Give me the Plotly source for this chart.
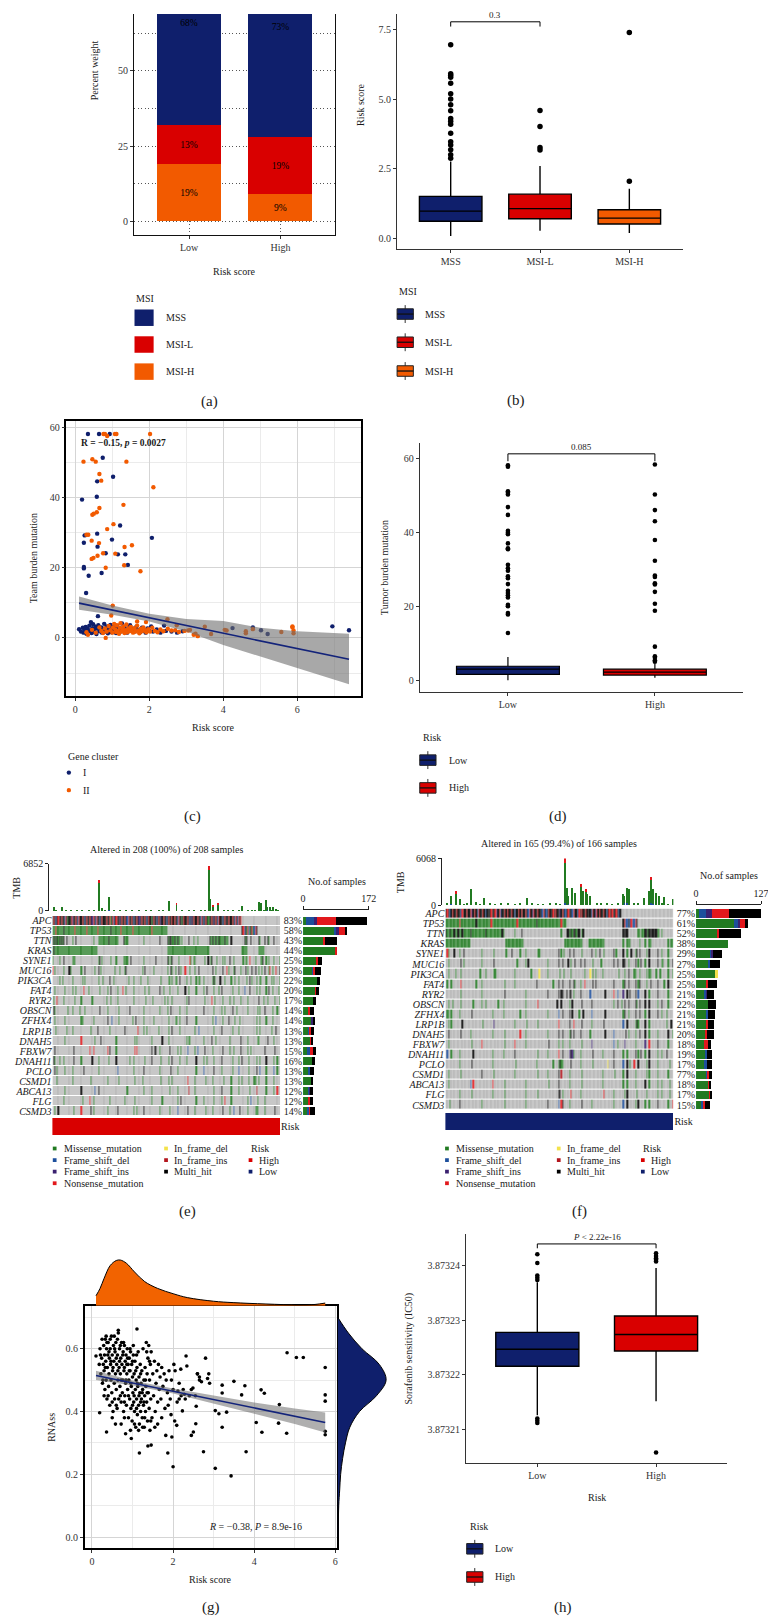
import plotly.graph_objects as go

W, H = 776, 1622
# the page adds an 8px body margin, so the figure is drawn 8px smaller and all
# reference pixel positions are shifted by that amount
OFF = 8
FIG_W, FIG_H = W - OFF, H - OFF
SERIF = "Liberation Serif"
INK = "#1a1a1a"
TICK = "#333333"
NAVY = "#0f1f6c"
RED = "#d90000"
ORANGE = "#f25a00"

# ---------------- (a) MSI share per risk group (%) ----------------
risk_groups = ["Low", "High"]
pct_msih = [19, 9]
pct_msil = [13, 19]
pct_mss = [68, 73]

# ---------------- (b) risk score by MSI status ----------------
msi_groups = ["MSS", "MSI-L", "MSI-H"]
b_q1 = [0.62, 0.71, 0.52]
b_median = [0.98, 1.07, 0.73]
b_q3 = [1.51, 1.59, 1.03]
b_low = [0.09, 0.28, 0.20]
b_high = [2.76, 2.60, 1.78]
b_out_mss = [6.95, 5.91, 5.85, 5.78, 5.57, 5.19, 5.0, 4.8, 4.58, 4.3, 4.2, 4.1, 3.77, 3.47, 3.35, 3.18, 3.0, 2.88]
b_out_msil = [4.59, 4.02, 3.26, 3.17]
b_out_msih = [7.39, 2.05]
b_pval = "0.3"
b_brk_y, b_brk_tip = 7.77, 7.6

# ---------------- (c) TMB vs risk score ----------------
c_cluster1 = [
    (0.34, 58.1), (0.64, 58.1), (0.93, 58.1), (0.74, 51.3), (1.02, 45.9), (0.59, 44.6), (0.18, 39.4),
    (0.58, 40.2), (1.21, 32.0), (0.25, 29.2), (0.59, 29.7), (0.99, 28.0), (2.07, 28.5), (0.23, 27.1),
    (0.6, 26.0), (0.82, 24.1), (1.15, 23.8), (1.35, 23.8), (1.42, 20.8), (0.23, 20.2), (0.23, 19.8),
    (0.71, 18.5), (0.36, 17.7), (0.29, 12.8), (0.61, 6.2), (6.95, 3.3), (7.4, 2.2), (5.2, 1.1),
    (5.02, 2.2), (4.8, 3.0), (4.25, 2.8),
    (0.1, 2.5), (0.15, 1.8), (0.2, 2.9), (0.22, 1.5), (0.25, 2.2), (0.28, 3.1), (0.3, 1.2), (0.33, 2.6),
    (0.35, 1.9), (0.38, 3.5), (0.4, 2.1), (0.42, 4.5), (0.44, 1.4), (0.46, 2.8), (0.48, 3.9), (0.5, 1.7),
    (0.52, 2.4), (0.55, 3.2), (0.57, 1.1), (0.6, 2.7), (0.62, 3.6), (0.65, 1.9), (0.67, 2.3), (0.7, 3.0),
    (0.72, 1.5), (0.75, 2.6), (0.78, 4.0), (0.8, 1.8), (0.83, 2.2), (0.85, 3.3), (0.88, 1.3), (0.9, 2.9),
    (0.93, 2.0), (0.95, 3.7), (0.98, 1.6), (1.0, 2.5), (1.03, 3.1), (1.05, 1.9), (1.08, 2.7), (1.1, 1.4),
    (1.13, 3.4), (1.15, 2.1), (1.18, 2.8), (1.2, 1.7), (1.23, 2.4), (1.26, 4.1), (1.3, 1.9), (1.33, 3.0),
    (1.36, 2.3), (1.4, 1.5), (1.44, 2.8), (1.48, 3.6), (1.52, 2.0), (1.56, 2.6), (1.6, 1.8), (1.65, 3.2),
    (1.7, 2.2), (1.75, 1.6), (1.8, 2.9), (1.85, 2.1), (1.9, 1.5), (1.95, 2.7), (2.0, 2.0), (2.05, 3.3),
    (2.1, 1.8), (2.2, 2.4), (2.3, 1.5), (2.4, 3.5), (2.45, 2.0), (2.6, 1.8), (2.75, 1.5), (2.9, 1.9),
]
c_cluster2 = [
    (0.76, 58.1), (0.8, 58.1), (0.86, 57.5), (1.07, 58.1), (1.11, 58.1), (2.02, 58.1), (0.22, 50.2),
    (0.46, 50.9), (0.55, 50.2), (1.38, 50.2), (0.65, 46.7), (0.7, 44.8), (2.11, 42.9), (1.3, 37.9),
    (0.65, 37.0), (0.58, 35.8), (0.5, 35.4), (0.46, 35.1), (1.03, 32.4), (0.86, 31.0), (0.3, 29.4),
    (0.35, 29.4), (0.44, 27.7), (0.64, 27.0), (1.33, 25.9), (1.53, 26.4), (0.75, 24.1), (1.08, 24.0),
    (0.6, 23.4), (0.49, 22.8), (0.44, 22.5), (0.82, 20.0), (1.32, 20.7), (1.76, 19.0), (1.01, 9.2),
    (0.97, 6.4), (2.49, 5.3), (1.67, 4.7), (1.91, 4.5), (5.87, 3.3), (5.87, 3.0), (5.9, 2.1), (5.9, 1.3),
    (5.57, 1.7), (4.61, 1.3), (4.61, 1.9), (4.8, 2.5), (4.04, 2.3), (4.09, 2.1), (3.67, 1.1), (3.5, 3.2),
    (3.31, 0.5), (3.2, 0.9), (3.05, 2.1), (2.74, 3.6), (0.82, 0.0), (0.34, 0.9),
    (0.3, 1.6), (0.45, 2.3), (0.55, 1.5), (0.65, 3.0), (0.7, 2.0), (0.75, 1.4), (0.8, 2.7), (0.85, 1.8),
    (0.9, 3.4), (0.95, 2.2), (1.0, 1.5), (1.02, 3.0), (1.05, 4.0), (1.08, 2.4), (1.1, 1.7), (1.12, 3.6),
    (1.15, 2.0), (1.18, 1.2), (1.2, 2.9), (1.22, 4.2), (1.25, 1.8), (1.28, 2.5), (1.3, 3.3), (1.33, 1.4),
    (1.35, 2.2), (1.38, 3.8), (1.4, 1.6), (1.43, 2.7), (1.46, 1.9), (1.5, 3.1), (1.53, 2.3), (1.56, 1.5),
    (1.6, 2.8), (1.63, 1.8), (1.67, 3.5), (1.7, 2.1), (1.73, 1.3), (1.77, 2.6), (1.8, 1.9), (1.84, 3.0),
    (1.88, 2.2), (1.92, 1.6), (1.97, 2.5), (2.02, 1.8), (2.08, 2.9), (2.15, 2.0), (2.22, 1.6), (2.3, 2.4),
    (2.38, 1.9), (2.5, 2.6), (2.6, 2.1), (2.7, 2.2), (2.8, 1.7), (2.95, 2.0), (3.1, 2.3), (3.25, 1.2),
]
c_fit_x = [0.1, 7.4]
c_fit_y = [9.9, -6.1]
c_band_x = [0.1, 1.0, 2.0, 3.0, 4.0, 5.0, 6.0, 7.4]
c_band_lo = [8.0, 6.6, 4.7, 1.8, -2.0, -5.2, -8.5, -13.2]
c_band_hi = [11.8, 9.2, 6.9, 5.4, 4.8, 2.9, 1.9, 1.2]

# ---------------- (d) TMB by risk group ----------------
d_q1 = [1.6, 1.4]
d_median = [3.0, 2.2]
d_q3 = [3.8, 3.0]
d_low = [0.0, 0.7]
d_high = [6.3, 4.5]
d_out_low = [58.1, 57.7, 51.1, 50.7, 50.2, 46.8, 44.7, 40.4, 39.9, 39.5, 37.0, 35.7, 35.4, 31.2, 30.3,
             29.6, 28.1, 27.6, 26.0, 24.2, 23.6, 23.0, 22.4, 20.4, 20.0, 18.2, 17.8, 12.8]
d_out_high = [58.3, 50.2, 46.0, 43.0, 37.9, 32.3, 28.3, 27.9, 26.2, 25.9, 23.9, 20.7, 18.8, 9.1, 6.5,
              6.1, 5.4, 5.0]
d_pval = "0.085"
d_brk_y, d_brk_tip = 61.2, 59.2

# ---------------- (e)/(f) oncoplots ----------------
genes = ["APC", "TP53", "TTN", "KRAS", "SYNE1", "MUC16", "PIK3CA", "FAT4", "RYR2", "OBSCN",
         "ZFHX4", "LRP1B", "DNAH5", "FBXW7", "DNAH11", "PCLO", "CSMD1", "ABCA13", "FLG", "CSMD3"]
pct_high = ["83%", "58%", "43%", "44%", "25%", "23%", "22%", "20%", "17%", "14%",
            "14%", "13%", "13%", "15%", "16%", "13%", "13%", "12%", "12%", "14%"]
pct_low = ["77%", "61%", "52%", "38%", "29%", "27%", "25%", "25%", "21%", "22%",
           "21%", "21%", "20%", "18%", "19%", "17%", "77%", "18%", "17%", "15%"]
n_high, n_low = 208, 166
tmb_max_high, tmb_max_low = 6852, 6068
bar_max_high, bar_max_low = 172, 127

# samples per gene and variant class (side bars)
bar_high_mis = [7, 83, 51, 86, 36, 25, 36, 32, 27, 15, 21, 14, 19, 13, 23, 15, 21, 15, 15, 12]
bar_high_fsd = [21, 4, 0, 0, 0, 3, 0, 0, 0, 0, 2, 3, 0, 4, 0, 4, 0, 2, 0, 4]
bar_high_fsi = [9, 6, 0, 0, 0, 0, 0, 0, 0, 0, 2, 0, 0, 0, 0, 0, 0, 2, 0, 0]
bar_high_non = [49, 17, 7, 3, 4, 3, 0, 3, 0, 3, 0, 3, 3, 8, 0, 0, 0, 0, 3, 3]
bar_high_ifd = [0, 0, 0, 0, 0, 0, 0, 0, 0, 0, 0, 0, 0, 0, 0, 0, 0, 0, 0, 0]
bar_high_multi = [82, 5, 30, 0, 10, 16, 9, 6, 6, 10, 6, 9, 4, 8, 9, 9, 5, 6, 8, 11]
bar_low_mis = [5, 74, 42, 63, 29, 24, 37, 21, 17, 24, 19, 21, 19, 16, 19, 16, 21, 24, 26, 11]
bar_low_fsd = [15, 8, 0, 0, 2, 3, 0, 0, 3, 0, 5, 0, 0, 0, 3, 5, 2, 0, 0, 3]
bar_low_fsi = [11, 3, 0, 0, 2, 0, 0, 0, 2, 0, 0, 0, 0, 0, 0, 0, 0, 0, 0, 0]
bar_low_non = [33, 11, 3, 0, 0, 0, 0, 3, 0, 0, 0, 3, 3, 8, 0, 0, 2, 3, 2, 3]
bar_low_ifd = [0, 0, 0, 0, 0, 0, 5, 0, 0, 0, 0, 0, 0, 0, 0, 0, 0, 0, 0, 0]
bar_low_multi = [63, 5, 42, 0, 17, 19, 0, 17, 13, 14, 13, 11, 13, 5, 10, 10, 6, 3, 3, 10]

# one char per sample: . none, m missense, d frame_shift_del, i frame_shift_ins,
# n nonsense, D in_frame_del, I in_frame_ins, x multi_hit
onco_high = [
    "xnxdxnxx nxxdnxmx xnixxnxd nxxnxdxn xxnxinxd nxxdxnxx xnxxnmxn dxnxxixn xxnxdnxx nxdxxnxi xnxxnxdx nxmxnxxd xnxixnxx dxnxxnxn xxdnxxmx nxxnxdxi xnxxnxxd nxdxnxmx xnxixnxd nxxdxnxx xnxxnxdn xdnxn... ........ ........ ........ ........",
    "mmmnmmmm mmxmmmmm mmmmnmmm mmmmmmmn mmmmmmmm mnmmmmmm mmmmmxmm mmmmmmnm mmmmmmmm mnmmmmmm mmmmmmmm mmnmmmmm mmmmmmmm m....... ........ ........ ........ ........ ........ ........ ........ .....xnd xmndmxnm dnx..... ........ ........",
    "xmxmxmxm xmx..x.. ..m..x.. ........ .....m.. ..mmmmmm mmmxmmmm mmmm.... .xmmm... ........ ...m.... ........ ..x..... .xmxxmmx mmxmm.m. ....x... .m..m... .......x mmxmmxmm xmmmmxmm m..x.... .......x mx...x.. ....xm.. ..x.xm.. ..x.....",
    "mxmmmmmm mmmmmmmm mmmmmmmm mmmmmmmm mmmmmmmm m....... ........ ........ ........ ........ ........ ........ ........ .mmmmmmm mmmmmmmm mmmmmmmm mmmmmmmm mmmmmmm. ........ ........ ........ .....mmm mm...... ....mmmm mm...... ........",
    "m.....m. ..x..... ..mmm... ........ ........ ..mx.m.. .....m.. ..m..... .mmmm..x ........ ...m.... ......x. ........ .xm.mx.. ...m.... .....nm. .mm..... ...m..x. mx....m. ...m.m.. ..x..m.. ......m. mm..n... .m....mm x..m.m.. ..m....m",
    "n.m..... ..m....x m....... ..m..x.. ......m. ..x.m... ........ .m...m.. ..mx.... ........ ..m.x... ....m... ........ .m..xm.. m..x.m.. .n...m.. ..m..x.. ........ ..x..m.. ...x...n .m...mx. ....m... x.m...x. .x..m..m ..x..mn. .m..n..x",
    "......m. .m...... ..m..... ...m.m.. ........ ..m...m. ....x... m....... .....m.. ..m..... m......m ........ ...m.... ..mm.m.. mm..x... ..m...m. ...m.mm. ..m..... ..mxm... .x...m.. ...m..m. ..m..... .m..x.m. ..m..mm. ...m.... m.m....m",
    "..m..... ...m.... ..m..m.. ....n... .m...... ...m.... ..m..x.. ...m.... n..m.... ..m..... ....m... m....... ..x..m.. ...m.... ..m..... .x..m... ...m.... ..m..x.. ...m.... m.x..... ....m... ..m....d ....x... ..m..m.. ...m.x.. .m....m.",
    ".m..n... ..m..... ....m... ..m..... ....m... ........ .m...m.. ...m.... ........ ..m..... .....m.. ...m.... ......m. .m...m.. ........ ..m.x... ........ ...m.... .n..m... ...m.... ..m..m.. ....m... ..m..... ....x... .m..m... ...m...m",
    ".xm..... ......m. ..m..... .m...m.. ........ ...x.... ..m..... ....m... ......x. ........ ...m.... ........ ..m..... .m..x... ....m... ..m..... ........ ..x..... ...m.... ..m..m.. ....x... m....... ..m..... ...m.m.. ..x..... .m...m..",
    "..m..... ...m.... ........ ..mm.... .....m.. ........ ..x...d. ....m... ........ .m..x... ...m.... ....m... ........ ..m..... mm..m... ..x..... ...m.... ........ ..m..d.. ...m.... .x....m. ...m.... ........ ..m..m.. ...m.... .m......",
    "...m.... .....m.. ..m..... ........ ...m.... .x...... ....m... ........ ..x..... ......n. ...m..m. ........ .m...... ..m..x.. ....m... ........ ..m..d.. ........ ...m.... ..x..... ....m... ..m..... ........ ..m..m.. ........ m...x...",
    "........ ...m.... ........ ..n..... ......m. ....x... ........ ..m..... ........ ...m.m.. ........ ..m..... ....x... ..m..... ........ ..m.mm.. ........ ..m..... .x...m.. ........ ..m..... ....x... ..m..... ...mm... ....x... ..m.....",
    "..x..... ........ ...x.... ........ ..n..n.. ........ ..n.x... ..m..... ........ ...n.n.. ........ ..x..xx. ..m..... ...x.... ..m..m.. ...d.... ..m.d... ...x.... ..m..... ...x.... ..m..m.. ....x... ..m..m.. ........ ..x..... ...x....",
    ".xm...m. ..m..... ...x.... ..m..... ....x... ..m..... ...m.... ..x..... ......m. ..m..... ....m... ..x..... ...m.... ..m..x.. ....m... ..m..... ...x.... ..m..m.. ...m.... ..x..... ....m... ..m..x.. ...m.... ..m..m.. ...x.... ..m..m..",
    "..x.m... ...m.... ..m..... ....x... ........ ..m..... ........ ...d.... ........ ..m..... ...x.... ........ ..m..... ....x... ..m..... ........ ...m.... ..d..... ...x.... ..m..... ....m... ..d..... ...m.... ..x..d.. ...m.... ..d..m..",
    "....m... ........ ..m..... ........ ...m.... ........ ..m..... ....m... ........ ...m.... ..m..... ........ ...m.... ..m..m.. ........ ...n.... ..m..... ....m... ..m..... ....m... ...m.... ..m..m.. ...m.... mm..m... ...m.... ..m.....",
    "........ ...m.... ........ ..x..... ......d. ..x..... ........ ........ ....m... ........ ...m.... ..m..... ........ ...m.... ..m..... ....I... ..m..... ........ ...m.... ..x..... ...m.... ..m..... ....m... ..I..... ...m.... ..m..n..",
    "........ ..m..... ........ ...m.... ..n..m.. ........ ....m... ........ ..m..... ...m.... ........ ..m..... ....m... ........ ..m..x.. ........ ...m.... ..m..... ...m.... ..m..n.. ...m.... ........ ..m..d.. ...m.... ..m..... ........",
    "..m..x.. ........ ...m.... ..n..... ...x.m.. ........ ..m..... ...x.... ........ ..m..m.. ...x.... ........ ..m..... ...m.... ..d..... ...x.... ..m..... ....m... ..m..... ...x.... ..m..d.. ...x.... ..m..... .mmm.... ..m..... ...x....",
]
onco_low = [
    "xnxdxnxx nxxdnxxn xxnixnxd nxxnxdxx xnxxnixn dxxnxnxx nxdxxnxn xxnxdnxi nxxnxxdn xdxnxxnx nxxixnxd xnxxdnxx dnxnxxnx xxdnxinx nxxnxdxn xnxxnxdx ........ ........ ........ ........ ......",
    "mmmmmmmm mmnmmmmm mmmmmmxm mmmmmmmm mnmmmmmm mmmmmmmm mmmmnmmm mmmmmmmm mmxmmmmm mmmmmmmm mmmmnmmm ........ ........ ........ ........ ........ .xnddxdn ddnx.... ........ ........ ......",
    "xmmxmmxm mxmmxmmm mmxmmmmm mmmmmxmm mmmmmmmm mxm..... ..m....x ........ ........ ........ ....m... xxmxmxxm xx.mx... ........ ........ ........ .xxxx... ....mm.m mxxmxxxx xxmm.m.. ......",
    "mmmmmmmm mmmmmmmm mm...... ........ ........ ....mmmm mmmmmmmm m....... ........ ........ .......m mmmmmmmm mmmm.... mmmmmmmm mmmm.... ........ .m..mmm. .....m.. .m..mm.. ........ ..m.mm",
    ".nm...x. ..m..x.. ........ ..m..... ...m.... ....m... x.....m. ..m..... ...mm... ........ ..x.m.m. ..x..x.. ...m.... ..x..m.. x..m.... ..x.m... .x..m..x ..mx.x.. ..m.x... ..x..m.. ..m...",
    "..m..... ...x.m.. ........ ..m..... ...x.... ........ ....m... ..m.x... ........ ..m..... ..x..x.. .x.m..x. ..x..x.. ...m.... .m...... ..x..x.. .xx..m.. ..x.m.x. .m..x... ..x..mm. ..m..x",
    "..m....m ...m.... ........ .m...m.. ...mm... ........ ..m..... ......m. ....D... ..m..... ...m..m. ...m.... .....m.. .D.m.m.. ..m..... ......m. ..m..x.. .mm..m.. ..m.mm.. .m..m... ..m..m",
    ".m..m... ...n.... ......m. ..m..... ........ ...m.... ..m..... ........ ..x..... ......m. ..x..x.. ..x..xm. ..m..n.. ...x.x.. ........ ..x..... .mx..x.. ..x.mx.. ..m..x.. ..x....m ..x...",
    "........ ...m.... ........ ..m..... ........ ...x.... ........ ..m..... ........ ..x..... ..x.xx.. x.xx.m.. ..x..... .d...... ....x... ..n..d.. .i..x.x. ..x.d... .x..m... ..x..... ..m...",
    "..m..m.. ...m.... ....m... ..m..m.. ......m. ..m..... ........ ..m..... ...n.... ........ .x..x... ..m.x... ...x.... ..x..... ........ ..m..x.. m.x..x.. ..xm.x.. .x..x... ..m..x.. ..m...",
    ".mm.m... ..m..... ...x.... ........ ..m..... ..m..... ......m. ..m..... ........ ..m..... ..d..x.. ..x.x... .m..x... ..d..... ....x... ........ .mx..m.. ..x..x.. .m..x... ..x..m.. .m....",
    "..m.m... ....x... ........ ...m.... ...i.... ........ ..m..... ...m.... ...m.... ........ ..n..... ..x..n.. ...x.... ..m..... ...x.... ........ .d..x... ..mxm... .x..m... ........ .m..x.",
    "..x..... ...x.... ..m..... ........ ..m..... ...m.... ......n. ..m..... ........ ..m..... ..x..x.. ..mx.x.. ..x..... .m...... ....x... ..d..... ...x.m.. ..m..x.. .x..m... ..m..... ..x..m",
    "..m..... ........ ...m.... ..n..... ........ ...m.... ..n..... ..m..... ........ ...x.... ..m..m.. ..m..... ...m.... ..i..... ........ ..d..m.. ..i..... ..m..... .i..n... ..x..... ..m...",
    ".d..m... ..m..... ....x... ........ ..m..... ..m..... ..x..... ........ ...m.... ..m..... ..n..x.. ..ixim.. ..m..... ...x.... ..m..... ..x..... .m..m... ..x.m.x. .m..x... ..m..m.. .x....",
    "........ ..m..... ...x.... ........ ..m..... ........ ...m.... ........ ..m..... ......m. ..mxmm.. ...x.... ..m..... ...m.... ......D. ..x..... .d..x.m. .n..x... ..m.x... ..m..... ...m..",
    "..m..... ...m.... ........ ..x..... ...m.... ........ ..m..... ........ ...m.... ..m..... ..x.I... ..m..... ...m.... ........ ..m..... ...m.... .m..x... ..m..... ..m.m... ..m..... ..m...",
    "..m..... ........ ..d.n... ........ ..n..... ...m.... ........ ..m..... ........ ...m.... ..x..... ..m..... ...m.... ........ ..m..... ........ .m..m... ..m..... .x..m... ..m..m.. ...m..",
    "........ ..m..... ...m.... ........ ..m..... ...m.... ........ ..m..... ...m.... ........ ..xx.m.. ...n.... ..m..... ........ ...n.... ..m..... ..m.x... ...m.... ..m..... ..m..m.. ...m..",
    "...m.... ..x..... ........ ..m..... ........ ...m.... ........ ..m..... ........ ..x..... ..d.nx.. ..m..... ...x.... ..m..... ........ ..m..... .d..x... ..m.x... .m..m... ..x..... ..m..n",
]

# TMB bars: sample index, frame-shift-del part, missense part, nonsense part
tmb_high_idx = [1, 8, 42, 45, 51, 106, 113, 143, 144, 146, 151, 173, 188, 190, 195, 196, 198, 201, 204,
                3, 12, 17, 22, 27, 33, 38, 48, 56, 61, 67, 72, 79, 85, 90, 97, 101, 118, 124, 129, 135,
                139, 156, 160, 165, 170, 178, 182, 185, 193, 200, 206]
tmb_high_fsd = [0, 0, 0, 0, 180, 0, 0, 0, 0, 0, 0, 0, 0, 0, 0, 200, 0, 0, 0,
                0, 0, 0, 0, 0, 0, 0, 0, 0, 0, 0, 0, 0, 0, 0, 0, 0, 0, 0, 0, 0,
                0, 0, 0, 0, 0, 0, 0, 0, 0, 0, 0]
tmb_high_mis = [627, 627, 4100, 480, 1850, 1450, 900, 6030, 1690, 650, 950, 720, 1300, 1110, 1590, 420,
                627, 627, 340,
                150, 110, 90, 130, 100, 170, 120, 90, 140, 110, 95, 160, 120, 100, 130, 85, 150, 120,
                105, 140, 90, 125, 110, 160, 95, 130, 200, 140, 110, 180, 150, 120]
tmb_high_non = [0, 0, 340, 0, 0, 0, 160, 580, 0, 170, 160, 0, 0, 0, 0, 0, 0, 0, 0,
                0, 0, 0, 0, 0, 0, 0, 0, 0, 0, 0, 0, 0, 0, 0, 0, 0, 0, 0, 0, 0,
                0, 0, 0, 0, 0, 0, 0, 0, 0, 0, 0]
tmb_low_idx = [4, 7, 10, 18, 22, 28, 59, 87, 88, 89, 92, 94, 98, 100, 102, 103, 105, 117, 129, 130,
               132, 133, 144, 148, 149, 151, 153, 155, 159, 165,
               1, 13, 15, 25, 32, 36, 40, 45, 50, 54, 63, 67, 71, 76, 80, 83, 110, 113, 121, 125,
               137, 140, 157, 162]
tmb_low_fsd = [150, 0, 0, 0, 0, 0, 0, 300, 0, 200, 0, 0, 0, 0, 0, 0, 0, 0, 0, 300,
               250, 0, 0, 0, 300, 200, 0, 0, 0, 0,
               0, 0, 0, 0, 0, 0, 0, 0, 0, 0, 0, 0, 0, 0, 0, 0, 0, 0, 0, 0,
               0, 0, 0, 0]
tmb_low_mis = [1050, 1500, 770, 2050, 430, 900, 980, 5200, 2260, 1000, 2260, 1620, 2400, 1840, 1750,
               1410, 1200, 340, 1410, 900, 2010, 2050, 980, 1840, 3000, 1850, 1620, 1200, 1110, 770,
               160, 120, 200, 110, 150, 100, 180, 130, 90, 140, 210, 120, 100, 150, 130, 110, 180, 140,
               120, 160, 190, 130, 150, 110]
tmb_low_non = [0, 340, 0, 0, 0, 0, 0, 610, 0, 0, 0, 0, 420, 0, 300, 0, 0, 0, 0, 0,
               0, 0, 0, 0, 370, 0, 0, 0, 0, 0,
               0, 0, 0, 0, 0, 0, 0, 0, 0, 0, 0, 0, 0, 0, 0, 0, 0, 0, 0, 0,
               0, 0, 0, 0]

# ---------------- (g) RNAss vs risk score ----------------
g_points = [
    (0.18, 0.55), (0.2, 0.6), (0.22, 0.52), (0.24, 0.57), (0.25, 0.63), (0.26, 0.49), (0.28, 0.55),
    (0.29, 0.61), (0.3, 0.53), (0.31, 0.58), (0.32, 0.47), (0.33, 0.63), (0.34, 0.56), (0.35, 0.5),
    (0.36, 0.6), (0.37, 0.44), (0.38, 0.54), (0.39, 0.58), (0.4, 0.62), (0.41, 0.48), (0.42, 0.52),
    (0.43, 0.57), (0.44, 0.42), (0.45, 0.6), (0.46, 0.55), (0.47, 0.5), (0.48, 0.64), (0.49, 0.46),
    (0.5, 0.58), (0.51, 0.53), (0.52, 0.4), (0.53, 0.61), (0.54, 0.56), (0.55, 0.49), (0.56, 0.44),
    (0.57, 0.59), (0.58, 0.52), (0.59, 0.62), (0.6, 0.47), (0.61, 0.55), (0.62, 0.41), (0.63, 0.58),
    (0.64, 0.5), (0.65, 0.65), (0.66, 0.44), (0.67, 0.54), (0.68, 0.6), (0.69, 0.48), (0.7, 0.52),
    (0.71, 0.57), (0.72, 0.43), (0.73, 0.62), (0.74, 0.55), (0.75, 0.46), (0.76, 0.5), (0.77, 0.59),
    (0.78, 0.4), (0.79, 0.53), (0.8, 0.61), (0.81, 0.45), (0.82, 0.56), (0.83, 0.49), (0.84, 0.58),
    (0.85, 0.42), (0.86, 0.52), (0.87, 0.6), (0.88, 0.47), (0.89, 0.55), (0.9, 0.38), (0.91, 0.5),
    (0.92, 0.57), (0.93, 0.44), (0.94, 0.53), (0.95, 0.59), (0.96, 0.41), (0.97, 0.48), (0.98, 0.55),
    (0.99, 0.37), (1.0, 0.51), (1.01, 0.46), (1.02, 0.58), (1.03, 0.43), (1.04, 0.52), (1.05, 0.4),
    (1.06, 0.56), (1.07, 0.47), (1.08, 0.35), (1.09, 0.5), (1.1, 0.44), (1.11, 0.54), (1.12, 0.39),
    (1.13, 0.48), (1.14, 0.59), (1.15, 0.42), (1.16, 0.51), (1.17, 0.36), (1.18, 0.46), (1.19, 0.55),
    (1.2, 0.4), (1.21, 0.49), (1.22, 0.44), (1.23, 0.53), (1.24, 0.38), (1.25, 0.47), (1.26, 0.6),
    (1.27, 0.42), (1.28, 0.5), (1.29, 0.35), (1.3, 0.45), (1.31, 0.54), (1.32, 0.4), (1.33, 0.48),
    (1.34, 0.62), (1.35, 0.43), (1.36, 0.52), (1.37, 0.37), (1.38, 0.57), (1.39, 0.46), (1.4, 0.61),
    (1.41, 0.41), (1.42, 0.5), (1.43, 0.34), (1.44, 0.55), (1.45, 0.44), (1.46, 0.59), (1.48, 0.38),
    (1.5, 0.52), (1.52, 0.45), (1.54, 0.56), (1.56, 0.4), (1.58, 0.49), (1.6, 0.53), (1.62, 0.43),
    (1.64, 0.55), (1.66, 0.47), (1.68, 0.51), (1.7, 0.44), (1.72, 0.54), (1.75, 0.48), (1.78, 0.52),
    (1.8, 0.41), (1.83, 0.5), (1.86, 0.46), (1.9, 0.53), (1.93, 0.44), (1.96, 0.5), (2.0, 0.47),
    (2.05, 0.53), (2.1, 0.43), (2.15, 0.49), (2.2, 0.45), (2.25, 0.47), (2.3, 0.44), (2.4, 0.45),
    (2.45, 0.47), (2.55, 0.45), (2.6, 0.52), (2.65, 0.5),
    (0.21, 0.58), (0.27, 0.5), (0.33, 0.54), (0.37, 0.62), (0.42, 0.59), (0.47, 0.56), (0.52, 0.54),
    (0.56, 0.6), (0.6, 0.57), (0.64, 0.53), (0.68, 0.56), (0.72, 0.5), (0.76, 0.58), (0.8, 0.54),
    (0.84, 0.5), (0.88, 0.57), (0.92, 0.53), (0.96, 0.49), (1.0, 0.56), (1.04, 0.45), (1.08, 0.53),
    (1.12, 0.49), (1.16, 0.45), (1.2, 0.52), (1.24, 0.46), (1.28, 0.43), (1.32, 0.5), (1.36, 0.46),
    (0.3, 0.45), (0.4, 0.45), (0.5, 0.43), (0.6, 0.42), (0.7, 0.45), (0.8, 0.43), (0.9, 0.45),
    (1.0, 0.42), (1.1, 0.41), (1.2, 0.43), (1.3, 0.38), (0.35, 0.64), (0.45, 0.63), (0.55, 0.64),
    (0.63, 0.63), (0.7, 0.61), (0.78, 0.62), (0.86, 0.55), (0.94, 0.6), (1.02, 0.61), (1.1, 0.58),
    (1.35, 0.59), (1.42, 0.56), (0.72, 0.36), (0.95, 0.34), (1.05, 0.36), (1.15, 0.34), (1.25, 0.35),
    (0.58, 0.36), (0.5, 0.38), (0.8, 0.38),
    (4.81, 0.587), (5.04, 0.572), (5.21, 0.572), (5.75, 0.54), (5.75, 0.453), (5.75, 0.433),
    (5.75, 0.337), (5.75, 0.326), (4.62, 0.422), (4.6, 0.363), (4.8, 0.331), (4.19, 0.334),
    (4.05, 0.365), (4.17, 0.469), (4.25, 0.458), (3.77, 0.482), (3.69, 0.453), (3.5, 0.496),
    (3.8, 0.272), (3.43, 0.195), (3.04, 0.219), (2.75, 0.272), (3.21, 0.484), (3.21, 0.459),
    (3.32, 0.398), (3.04, 0.403), (3.13, 0.393), (3.21, 0.35), (2.8, 0.57), (2.9, 0.49), (2.88, 0.52),
    (2.85, 0.505), (2.65, 0.51), (2.7, 0.495), (2.6, 0.52), (2.57, 0.417), (2.56, 0.361), (2.5, 0.335),
    (2.45, 0.324), (2.32, 0.577), (2.34, 0.545), (2.0, 0.224), (1.87, 0.268), (1.97, 0.319),
    (1.82, 0.324), (2.02, 0.55), (2.19, 0.535), (1.17, 0.268), (0.97, 0.314), (0.83, 0.329),
    (0.36, 0.335), (0.19, 0.396), (0.1, 0.577), (1.11, 0.663), (0.65, 0.659), (1.38, 0.29),
    (1.46, 0.293), (2.23, 0.402), (2.04, 0.37), (2.09, 0.356), (2.49, 0.475), (2.28, 0.455),
    (2.12, 0.465), (1.95, 0.39), (1.88, 0.42), (2.15, 0.44), (1.72, 0.38), (1.62, 0.36), (1.55, 0.35),
    (1.45, 0.37),
]
g_fit_x = [0.1, 5.75]
g_fit_y = [0.515, 0.365]
g_band_x = [0.1, 1.0, 2.0, 3.0, 4.0, 5.0, 5.75]
g_band_lo = [0.500, 0.483, 0.457, 0.426, 0.393, 0.360, 0.333]
g_band_hi = [0.530, 0.499, 0.473, 0.450, 0.429, 0.410, 0.397]
g_top_x = [0.1, 0.2, 0.3, 0.45, 0.6, 0.7, 0.85, 1.05, 1.3, 1.62, 2.02, 2.35, 3.0, 3.48, 4.29, 5.1, 5.5, 5.75]
g_top_dens = [0.22, 0.38, 0.6, 0.88, 0.99, 1.0, 0.93, 0.74, 0.53, 0.38, 0.26, 0.18, 0.10, 0.07, 0.04, 0.02, 0.03, 0.06]
g_right_y = [0.0, 0.1, 0.15, 0.2, 0.25, 0.3, 0.35, 0.4, 0.45, 0.5, 0.55, 0.6, 0.65, 0.7]
g_right_dens = [0.01, 0.02, 0.04, 0.06, 0.1, 0.16, 0.25, 0.45, 0.8, 1.0, 0.86, 0.5, 0.22, 0.0]

# ---------------- (h) sorafenib IC50 by risk ----------------
h_q1 = [3.8732216, 3.8732244]
h_median = [3.8732247, 3.8732274]
h_q3 = [3.8732278, 3.8732308]
h_low = [3.8732126, 3.8732152]
h_high = [3.8732370, 3.8732396]
h_out_low = [3.8732421, 3.8732405, 3.8732382, 3.8732378, 3.8732374, 3.8732120, 3.8732116, 3.8732112]
h_out_high = [3.8732423, 3.8732418, 3.8732414, 3.8732411, 3.8732408, 3.8732058]
h_brk_y, h_brk_tip = 3.8732440, 3.8732432

MUT_CODES = ".mdinDIx"
MUT_COLORS = ["#b4b4b4", "#217a21", "#1d4f9c", "#3b2170", "#e2181c", "#f3e24b", "#b3151d", "#000000"]
MUT_NAMES = ["", "Missense_mutation", "Frame_shift_del", "Frame_shift_ins", "Nonsense_mutation",
             "In_frame_del", "In_frame_ins", "Multi_hit"]


def px_x(X):
    return (X - OFF) / FIG_W


def px_y(Y):
    return 1 - (Y - OFF) / FIG_H


def dx(a, b):
    return [max(0.0, px_x(a)), min(1.0, px_x(b))]


def dy(top, bottom):
    return [max(0.0, px_y(bottom)), min(1.0, px_y(top))]


def make_axis(domain, rng=None, **kw):
    d = dict(domain=domain, showgrid=False, zeroline=False, showline=False, ticks="",
             showticklabels=False, fixedrange=True, tickfont=dict(family=SERIF, size=10, color=TICK))
    if rng is not None:
        d["range"] = rng
    d.update(kw)
    return d


shapes, annots = [], []


def add_text(x, y, s, size=10, xa="left", ya="middle", angle=0, color=INK):
    annots.append(dict(x=px_x(x), y=px_y(y), xref="paper", yref="paper", text=s, showarrow=False,
                       xanchor=xa, yanchor=ya, textangle=angle,
                       font=dict(family=SERIF, size=size, color=color)))


def add_rect(x0, y0, x1, y1, fill, edge=None, lw=0):
    shapes.append(dict(type="rect", xref="paper", yref="paper", x0=px_x(x0), x1=px_x(x1),
                       y0=px_y(y1), y1=px_y(y0), fillcolor=fill,
                       line=dict(color=edge or fill, width=lw), layer="above"))


def add_line(x0, y0, x1, y1, color="#000", w=1):
    shapes.append(dict(type="line", xref="paper", yref="paper", x0=px_x(x0), x1=px_x(x1),
                       y0=px_y(y0), y1=px_y(y1), line=dict(color=color, width=w), layer="above"))


def add_dot(x, y, r, color):
    shapes.append(dict(type="circle", xref="paper", yref="paper", x0=px_x(x - r), x1=px_x(x + r),
                       y0=px_y(y + r), y1=px_y(y - r), fillcolor=color, line=dict(width=0)))


def box_key(x0, yc, color):
    add_line(x0 + 8.2, yc - 9, x0 + 8.2, yc + 9, "#333", 1)
    add_rect(x0, yc - 5.3, x0 + 16.5, yc + 5.3, color, "#222", 1)
    add_line(x0, yc, x0 + 16.5, yc, "#111", 1.3)


fig = go.Figure()

# ---- (a) stacked bars
for vals, color in [(pct_msih, ORANGE), (pct_msil, RED), (pct_mss, NAVY)]:
    fig.add_trace(go.Bar(x=risk_groups, y=vals, width=0.7, marker=dict(color=color, line=dict(width=0)),
                         text=[f"{v}%" for v in vals], textposition="inside", insidetextanchor="middle",
                         textangle=0, textfont=dict(family=SERIF, size=9.5, color="black"),
                         xaxis="x", yaxis="y"))


# ---- boxplot helpers
def add_boxes(cats, q1, med, q3, lo, hi, colors, xa, ya, lw=1.4):
    for i, cat in enumerate(cats):
        fig.add_trace(go.Box(x=[cat], q1=[q1[i]], median=[med[i]], q3=[q3[i]], lowerfence=[lo[i]],
                             upperfence=[hi[i]], fillcolor=colors[i], line=dict(color="black", width=lw),
                             width=0.7, whiskerwidth=0, boxpoints=False, xaxis=xa, yaxis=ya))


def add_outliers(cat, vals, xa, ya, size):
    fig.add_trace(go.Scatter(x=[cat] * len(vals), y=vals, mode="markers",
                             marker=dict(color="black", size=size), xaxis=xa, yaxis=ya))


def add_bracket(c0, c1, y, tip, xa, ya):
    fig.add_trace(go.Scatter(x=[c0, c0, c1, c1], y=[tip, y, y, tip], mode="lines",
                             line=dict(color="black", width=1), xaxis=xa, yaxis=ya))


# ---- (b)
add_boxes(msi_groups, b_q1, b_median, b_q3, b_low, b_high, [NAVY, RED, ORANGE], "x2", "y2")
add_outliers("MSS", b_out_mss, "x2", "y2", 5.5)
add_outliers("MSI-L", b_out_msil, "x2", "y2", 5.5)
add_outliers("MSI-H", b_out_msih, "x2", "y2", 5.5)
add_bracket("MSS", "MSI-L", b_brk_y, b_brk_tip, "x2", "y2")

# ---- (c)
for pts, color in [(c_cluster1, NAVY), (c_cluster2, ORANGE)]:
    xs, ys = zip(*pts)
    fig.add_trace(go.Scatter(x=xs, y=ys, mode="markers", marker=dict(color=color, size=4.4),
                             xaxis="x3", yaxis="y3"))
fig.add_trace(go.Scatter(x=c_band_x + c_band_x[::-1], y=c_band_hi + c_band_lo[::-1], fill="toself",
                         fillcolor="rgba(110,110,110,0.6)", line=dict(width=0), mode="lines",
                         xaxis="x3", yaxis="y3"))
fig.add_trace(go.Scatter(x=c_fit_x, y=c_fit_y, mode="lines", line=dict(color="#13237a", width=1.6),
                         xaxis="x3", yaxis="y3"))

# ---- (d)
add_boxes(risk_groups, d_q1, d_median, d_q3, d_low, d_high, [NAVY, RED], "x4", "y4", lw=1.2)
add_outliers("Low", d_out_low, "x4", "y4", 4.6)
add_outliers("High", d_out_high, "x4", "y4", 4.6)
add_bracket("Low", "High", d_brk_y, d_brk_tip, "x4", "y4")


# ---- (e)/(f) oncoplots
def decode(rows, n):
    z = []
    for r in rows:
        s = (r.replace(" ", "") + "." * n)[:n]
        z.append([MUT_CODES.index(ch) for ch in s])
    return z


def add_oncoplot(rows, n, tmb_idx, tmb_parts, side_bars, ax_tmb, ax_mat, ax_bar, ax_risk, risk_color):
    for part, color in zip(tmb_parts, [MUT_COLORS[2], MUT_COLORS[1], MUT_COLORS[4]]):
        fig.add_trace(go.Bar(x=tmb_idx, y=part, width=0.9, marker=dict(color=color, line=dict(width=0)),
                             xaxis=ax_tmb[0], yaxis=ax_tmb[1]))
    k = len(MUT_COLORS)
    scale = []
    for i, c in enumerate(MUT_COLORS):
        scale += [[i / k, c], [(i + 1) / k, c]]
    fig.add_trace(go.Heatmap(z=decode(rows, n), x=list(range(n)), y=genes, zmin=-0.5, zmax=k - 0.5,
                             colorscale=scale, showscale=False, xgap=0.25, ygap=1,
                             xaxis=ax_mat[0], yaxis=ax_mat[1]))
    for counts, code in side_bars:
        fig.add_trace(go.Bar(y=genes, x=counts, orientation="h", width=0.85,
                             marker=dict(color=MUT_COLORS[code], line=dict(width=0)),
                             xaxis=ax_bar[0], yaxis=ax_bar[1]))
    fig.add_trace(go.Bar(y=["Risk"], x=[n], base=-0.5, orientation="h", width=1.0,
                         marker=dict(color=risk_color, line=dict(width=0)),
                         xaxis=ax_risk[0], yaxis=ax_risk[1]))


add_oncoplot(onco_high, n_high, tmb_high_idx, [tmb_high_fsd, tmb_high_mis, tmb_high_non],
             [(bar_high_mis, 1), (bar_high_fsd, 2), (bar_high_fsi, 3), (bar_high_non, 4),
              (bar_high_ifd, 5), (bar_high_multi, 7)],
             ("x5", "y5"), ("x6", "y6"), ("x7", "y7"), ("x6", "y8"), RED)
add_oncoplot(onco_low, n_low, tmb_low_idx, [tmb_low_fsd, tmb_low_mis, tmb_low_non],
             [(bar_low_mis, 1), (bar_low_fsd, 2), (bar_low_fsi, 3), (bar_low_non, 4),
              (bar_low_ifd, 5), (bar_low_multi, 7)],
             ("x9", "y9"), ("x10", "y10"), ("x11", "y11"), ("x10", "y12"), NAVY)

# ---- (g)
gx, gy = zip(*g_points)
fig.add_trace(go.Scatter(x=gx, y=gy, mode="markers", marker=dict(color="black", size=3.6),
                         xaxis="x13", yaxis="y13"))
fig.add_trace(go.Scatter(x=g_band_x + g_band_x[::-1], y=g_band_hi + g_band_lo[::-1], fill="toself",
                         fillcolor="rgba(110,110,110,0.55)", line=dict(width=0), mode="lines",
                         xaxis="x13", yaxis="y13"))
fig.add_trace(go.Scatter(x=g_fit_x, y=g_fit_y, mode="lines", line=dict(color="#13237a", width=1.6),
                         xaxis="x13", yaxis="y13"))
fig.add_trace(go.Scatter(x=g_top_x, y=g_top_dens, mode="lines", fill="tozeroy", fillcolor="#f26300",
                         line=dict(color="black", width=1, shape="spline"), xaxis="x14", yaxis="y14"))
fig.add_trace(go.Scatter(x=g_right_dens, y=g_right_y, mode="lines", fill="tozerox", fillcolor=NAVY,
                         line=dict(color="black", width=1, shape="spline"), xaxis="x15", yaxis="y15"))

# ---- (h)
add_boxes(risk_groups, h_q1, h_median, h_q3, h_low, h_high, [NAVY, RED], "x16", "y16", lw=1.4)
add_outliers("Low", h_out_low, "x16", "y16", 4.6)
add_outliers("High", h_out_high, "x16", "y16", 4.6)
add_bracket("Low", "High", h_brk_y, h_brk_tip, "x16", "y16")

# ---------------- axes ----------------
DOT = "1px,2.5px"
classic = dict(showline=True, linecolor="#333", linewidth=1, ticks="outside", ticklen=3,
               tickcolor="#333", showticklabels=True)
frame = dict(showline=True, mirror=True, linecolor="black", linewidth=1.5, ticks="outside", ticklen=3,
             tickcolor="#333", showticklabels=True, showgrid=True, gridcolor="#d5d5d5", gridwidth=1)
onco_tick = dict(family=SERIF, size=10, color=INK)

layout_axes = dict(
    xaxis=make_axis(dx(133, 337), [-0.6, 1.6], anchor="y", type="category", showline=True,
                    linecolor="#111", linewidth=1.2, ticks="outside", ticklen=3, tickcolor="#333",
                    showticklabels=True, showgrid=True, gridcolor="#555", griddash=DOT),
    yaxis=make_axis(dy(8, 231), [-4.7, 68.9], anchor="x", showline=True, mirror=True, linecolor="#111",
                    linewidth=1.2, ticks="outside", ticklen=3, tickcolor="#333", showticklabels=True,
                    tickvals=[0, 25, 50], showgrid=True, gridcolor="#555", griddash=DOT,
                    minor=dict(tickvals=[12.5, 37.5, 62.5], showgrid=True, gridcolor="#555",
                               griddash=DOT, ticks="")),
    xaxis2=make_axis(dx(399.7, 689.7), [-0.6, 2.6], anchor="y2", type="category", **classic),
    yaxis2=make_axis(dy(8, 244.3), [-0.36, 8.05], anchor="x2", tickvals=[0, 2.5, 5, 7.5],
                     ticktext=["0.0", "2.5", "5.0", "7.5"], **classic),
    xaxis3=make_axis(dx(64.3, 363.3), [-0.24, 7.73], anchor="y3", tickvals=[0, 2, 4, 6],
                     minor=dict(tickvals=[1, 3, 5, 7], showgrid=True, gridcolor="#ebebeb"), **frame),
    yaxis3=make_axis(dy(418, 695.3), [-16.6, 61.8], anchor="x3", tickvals=[0, 20, 40, 60],
                     minor=dict(tickvals=[-10, 10, 30, 50], showgrid=True, gridcolor="#ebebeb"), **frame),
    xaxis4=make_axis(dx(422.7, 750.7), [-0.6, 1.6], anchor="y4", type="category", **classic),
    yaxis4=make_axis(dy(440.7, 690.7), [-3.06, 64.0], anchor="x4", tickvals=[0, 20, 40, 60], **classic),
    # (e)
    xaxis5=make_axis(dx(46.7, 281), [-3.5, 207.5], anchor="y5"),
    yaxis5=make_axis(dy(864.3, 911.7), [0, tmb_max_high], anchor="x5", showline=True, linecolor="#222",
                     ticks="outside", ticklen=3, tickcolor="#222", showticklabels=True,
                     tickvals=[0, tmb_max_high], tickfont=onco_tick),
    xaxis6=make_axis(dx(50, 281), [-0.5, n_high - 0.5], anchor="y6"),
    yaxis6=make_axis(dy(916.7, 1118.3), [19.5, -0.5], anchor="x6", type="category", tickvals=genes,
                     ticktext=[f"<i>{g}</i>" for g in genes], showticklabels=True, tickfont=onco_tick),
    xaxis7=make_axis(dx(304.3, 371), [0, bar_max_high], anchor="free", position=px_y(910), side="top",
                     showline=True, linecolor="#222", ticks="outside", ticklen=3, tickcolor="#222",
                     showticklabels=True, tickvals=[0, bar_max_high], tickfont=onco_tick),
    yaxis7=make_axis(dy(916.7, 1118.3), [19.5, -0.5], anchor="x7", type="category", tickvals=genes,
                     ticktext=pct_high, showticklabels=True, tickfont=onco_tick),
    yaxis8=make_axis(dy(1120, 1137.3), [-0.5, 0.5], anchor="x6", side="right", type="category",
                     tickvals=["Risk"], showticklabels=True, tickfont=onco_tick),
    # (f)
    xaxis9=make_axis(dx(445.3, 680), [-2.94, 165.5], anchor="y9"),
    yaxis9=make_axis(dy(858.7, 906), [0, tmb_max_low], anchor="x9", showline=True, linecolor="#222",
                     ticks="outside", ticklen=3, tickcolor="#222", showticklabels=True,
                     tickvals=[0, tmb_max_low], tickfont=onco_tick),
    xaxis10=make_axis(dx(448.7, 680), [-0.5, n_low - 0.5], anchor="y10"),
    yaxis10=make_axis(dy(909.3, 1112.3), [19.5, -0.5], anchor="x10", type="category", tickvals=genes,
                      ticktext=[f"<i>{g}</i>" for g in genes], showticklabels=True, tickfont=onco_tick),
    xaxis11=make_axis(dx(703, 769), [0, bar_max_low], anchor="free", position=px_y(905), side="top",
                      showline=True, linecolor="#222", ticks="outside", ticklen=3, tickcolor="#222",
                      showticklabels=True, tickvals=[0, bar_max_low], tickfont=onco_tick),
    yaxis11=make_axis(dy(909.3, 1112.3), [19.5, -0.5], anchor="x11", type="category", tickvals=genes,
                      ticktext=pct_low, showticklabels=True, tickfont=onco_tick),
    yaxis12=make_axis(dy(1115, 1132.3), [-0.5, 0.5], anchor="x10", side="right", type="category",
                      tickvals=["Risk"], showticklabels=True, tickfont=onco_tick),
    # (g)
    xaxis13=make_axis(dx(82.7, 338.3), [-0.18, 6.03], anchor="y13", tickvals=[0, 2, 4, 6],
                      minor=dict(tickvals=[1, 3, 5], showgrid=True, gridcolor="#ebebeb"), **frame),
    yaxis13=make_axis(dy(1310, 1553.3), [-0.034, 0.735], anchor="x13", tickvals=[0, 0.2, 0.4, 0.6],
                      ticktext=["0.0", "0.2", "0.4", "0.6"],
                      minor=dict(tickvals=[0.1, 0.3, 0.5, 0.7], showgrid=True, gridcolor="#ebebeb"), **frame),
    xaxis14=make_axis(dx(82.7, 338.3), [-0.18, 6.03], anchor="y14"),
    yaxis14=make_axis(dy(1262, 1309.5), [0, 1.03], anchor="x14"),
    xaxis15=make_axis(dx(339.5, 390), [0, 1.03], anchor="y15"),
    yaxis15=make_axis(dy(1310, 1553.3), [-0.034, 0.735], anchor="x15"),
    # (h)
    xaxis16=make_axis(dx(469.7, 734.7), [-0.6, 1.6], anchor="y16", type="category", **classic),
    yaxis16=make_axis(dy(1236.7, 1467.7), [3.8732039, 3.8732459], anchor="x16",
                      tickvals=[3.87321, 3.87322, 3.87323, 3.87324],
                      ticktext=["3.87321", "3.87322", "3.87323", "3.87324"], **classic),
)

# ---------------- text: titles, stats, legends, panel tags ----------------
# (a)
add_text(93, 65, "Percent weight", angle=-90, xa="center")
add_text(235, 267, "Risk score", xa="center")
add_text(133, 295, "MSI")
for yc, lab, col in [(314, "MSS", NAVY), (341, "MSI-L", RED), (368.3, "MSI-H", ORANGE)]:
    add_rect(133.3, yc - 8.3, 152.7, yc + 8.3, col)
    add_text(163, yc, lab)
add_text(209, 398, "(a)", size=15, xa="center")
# (b)
add_text(362.7, 99, "Risk score", angle=-90, xa="center")
add_text(400, 287.3, "MSI")
for yc, lab, col in [(310.3, "MSS", NAVY), (338.7, "MSI-L", RED), (367.7, "MSI-H", ORANGE)]:
    box_key(399.7, yc, col)
    add_text(426.3, yc, lab)
add_text(520.7, 397.7, "(b)", size=15, xa="center")
annots.append(dict(x=0.5, y=b_brk_y, xref="x2", yref="y2", text=b_pval, showarrow=False, yanchor="bottom",
                   font=dict(family=SERIF, size=9, color=INK)))
# (c)
add_text(31, 556.7, "Team burden mutation", angle=-90, xa="center")
add_text(213.3, 727.3, "Risk score", xa="center")
add_text(77, 440.7, "<b>R = −0.15, <i>p</i> = 0.0027</b>", size=9.5)
add_text(64.3, 755.7, "Gene cluster")
add_dot(66.7, 772.3, 2.2, NAVY)
add_text(79, 772.3, "I")
add_dot(66.7, 790, 2.2, ORANGE)
add_text(79, 790, "II")
add_text(191.7, 817, "(c)", size=15, xa="center")
# (d)
add_text(387, 565.7, "Tumor burden mutation", angle=-90, xa="center")
annots.append(dict(x=0.5, y=d_brk_y, xref="x4", yref="y4", text=d_pval, showarrow=False, yanchor="bottom",
                   font=dict(family=SERIF, size=9, color=INK)))
add_text(423.7, 736.7, "Risk")
for yc, lab, col in [(759.7, "Low", NAVY), (787.7, "High", RED)]:
    box_key(422.7, yc, col)
    add_text(450.3, yc, lab)
add_text(563, 817, "(d)", size=15, xa="center")
# (e) / (f)
add_text(165.5, 850.7, f"Altered in 208 (100%) of {n_high} samples", xa="center")
add_text(564, 844.7, f"Altered in 165 (99.4%) of {n_low} samples", xa="center")
add_text(14, 888.3, "TMB", angle=-90, xa="center")
add_text(403, 882.3, "TMB", angle=-90, xa="center")
add_text(338.3, 881.7, "No.of samples", xa="center")
add_text(736.3, 876, "No.of samples", xa="center")
rows_y = [1151, 1162.7, 1174.3, 1186]
for x_m1, x_t1, x_m2, x_t2, x_r, x_m3, x_t3 in [(52.3, 59.3, 165.3, 171.3, 249.3, 251, 257.7),
                                                 (450.3, 457, 563.7, 569.7, 647.3, 649, 655.7)]:
    for j, code in enumerate([1, 2, 3, 4]):
        add_rect(x_m1 - 1.9, rows_y[j] - 1.9, x_m1 + 1.9, rows_y[j] + 1.9, MUT_COLORS[code])
        add_text(x_t1, rows_y[j], MUT_NAMES[code])
    for j, code in enumerate([5, 6, 7]):
        add_rect(x_m2 - 1.9, rows_y[j] - 1.9, x_m2 + 1.9, rows_y[j] + 1.9, MUT_COLORS[code])
        add_text(x_t2, rows_y[j], MUT_NAMES[code])
    add_text(x_r, rows_y[0], "Risk")
    add_rect(x_m3 - 1.9, rows_y[1] - 1.9, x_m3 + 1.9, rows_y[1] + 1.9, RED)
    add_text(x_t3, rows_y[1], "High")
    add_rect(x_m3 - 1.9, rows_y[2] - 1.9, x_m3 + 1.9, rows_y[2] + 1.9, NAVY)
    add_text(x_t3, rows_y[2], "Low")
add_text(186.7, 1214.3, "(e)", size=15, xa="center")
add_text(584.7, 1214.3, "(f)", size=15, xa="center")
# (g)
add_text(48.3, 1431.7, "RNAss", angle=-90, xa="center")
add_text(210, 1585.7, "Risk score", xa="center")
add_text(255.8, 1531.7, "<i>R</i> = −0.38, <i>P</i> = 8.9e-16", xa="center")
add_text(211, 1613.3, "(g)", size=15, xa="center")
# (h)
add_text(411.3, 1353, "Sorafenib sensitivity (IC50)", angle=-90, xa="center")
add_text(602.3, 1502.3, "Risk", xa="center")
annots.append(dict(x=0.5, y=h_brk_y, xref="x16", yref="y16", text="<i>P</i> < 2.22e-16", showarrow=False,
                   yanchor="bottom", font=dict(family=SERIF, size=9, color=INK)))
add_text(471.3, 1531.7, "Risk")
for yc, lab, col in [(1554.3, "Low", NAVY), (1582.7, "High", RED)]:
    box_key(470.3, yc, col)
    add_text(497.3, yc, lab)
add_text(568, 1613.3, "(h)", size=15, xa="center")

fig.update_layout(
    width=FIG_W, height=FIG_H, margin=dict(l=0, r=0, t=0, b=0), showlegend=False,
    paper_bgcolor="white", plot_bgcolor="white", barmode="stack", boxmode="overlay",
    font=dict(family=SERIF, size=10, color=INK), shapes=shapes, annotations=annots,
    **layout_axes,
)

fig.write_html("out.html")
